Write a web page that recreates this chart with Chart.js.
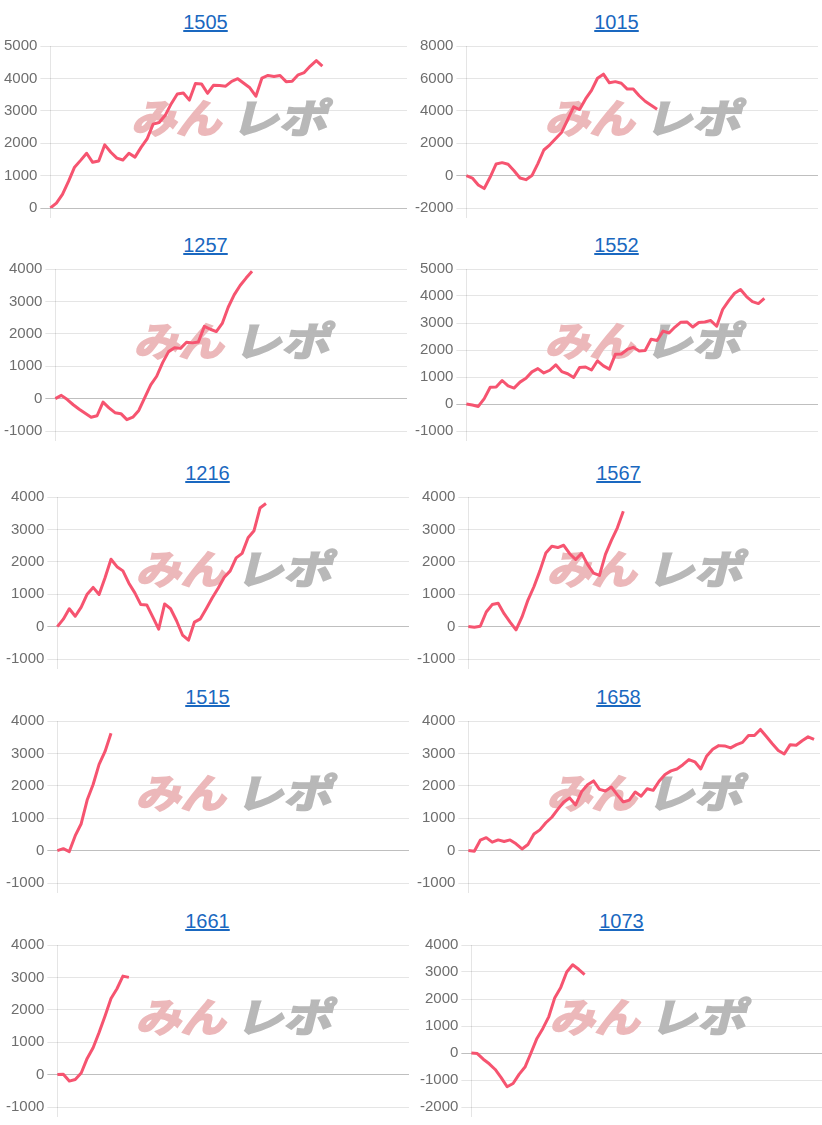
<!DOCTYPE html>
<html>
<head>
<meta charset="utf-8">
<title>みんレポ</title>
<script src="https://cdn.jsdelivr.net/npm/chart.js@4.4.0/dist/chart.umd.min.js"></script>
<style>
    html, body { margin: 0; padding: 0; background: #fff; overflow: hidden; }
    #wrap { position: relative; width: 822px; height: 1125px; }
    .panel { position: absolute; width: 411px; height: 225px; }
    .panel a {
        position: absolute; left: 0; right: 0; top: 10px;
        text-align: center; font: 20px/24px Arial, "Liberation Sans", sans-serif;
        color: #1a68c0; text-decoration: underline;
    }
    .panel canvas { position: absolute; left: 0; top: 34px; }
</style>
</head>
<body>
<div id="wrap"></div>
<script>
// Titles of each small chart
var titles = ['1505', '1015', '1257', '1552', '1216', '1567', '1515', '1658', '1661', '1073'];

// Series values
var s1505 = [0, 150, 420, 820, 1260, 1470, 1690, 1410, 1450, 1950, 1720, 1540, 1480, 1690, 1570, 1870, 2130, 2590, 2640, 2860,
    3220, 3520, 3550, 3330, 3840, 3830, 3540, 3790, 3780, 3760, 3910, 3990, 3850, 3710, 3450, 4010, 4090, 4060, 4090, 3900,
    3910, 4110, 4180, 4380, 4550, 4380];
var s1015 = [0, -150, -580, -800, -90, 720, 800, 700, 300, -150, -250, 0, 740, 1580, 1900, 2290, 2680, 3450, 4240, 4080,
    4730, 5260, 6010, 6260, 5730, 5800, 5700, 5340, 5340, 4930, 4590, 4340, 4100];
var s1257 = [0, 100, -30, -190, -330, -455, -575, -530, -110, -285, -435, -465, -650, -575, -365, 30, 425, 690, 1110, 1450,
    1570, 1550, 1740, 1720, 1750, 2230, 2140, 2070, 2320, 2820, 3200, 3490, 3720, 3930];
var s1552 = [0, -40, -90, 200, 620, 630, 870, 670, 590, 810, 950, 1190, 1310, 1150, 1250, 1450, 1200, 1120, 980, 1350,
    1370, 1260, 1600, 1410, 1290, 1840, 1850, 2020, 2100, 1960, 1980, 2400, 2350, 2700, 2630, 2850, 3030, 3040, 2850, 3020,
    3040, 3090, 2880, 3500, 3820, 4100, 4240, 3980, 3790, 3720, 3910];
var s1216 = [0, 230, 550, 320, 600, 1000, 1210, 990, 1510, 2080, 1850, 1720, 1340, 1040, 680, 670, 300, -80, 700, 550,
    180, -260, -420, 140, 240, 560, 890, 1190, 1520, 1720, 2120, 2260, 2740, 2960, 3660, 3800];
var s1567 = [0, -20, 10, 450, 680, 720, 400, 140, -100, 300, 820, 1230, 1720, 2270, 2480, 2440, 2510, 2250, 2070, 2260,
    1920, 1650, 1580, 2230, 2660, 3050, 3560];
var s1515 = [0, 60, -30, 460, 830, 1560, 2040, 2660, 3060, 3620];
var s1658 = [0, -20, 320, 400, 260, 330, 280, 330, 210, 50, 190, 510, 640, 860, 1030, 1270, 1500, 1620, 1410, 1820,
    2030, 2150, 1890, 1840, 1960, 1720, 1500, 1560, 1810, 1680, 1910, 1860, 2140, 2350, 2460, 2520, 2650, 2810, 2740, 2520,
    2920, 3130, 3240, 3230, 3170, 3270, 3340, 3550, 3550, 3740, 3520, 3300, 3090, 2980, 3270, 3250, 3390, 3510, 3430];
var s1661 = [0, 10, -200, -150, 50, 500, 830, 1300, 1810, 2350, 2650, 3040, 3000];
var s1073 = [0, -20, -230, -400, -610, -910, -1250, -1130, -790, -520, 0, 540, 910, 1350, 2050, 2430, 3000, 3270, 3100, 2900];

var series = [s1505, s1015, s1257, s1552, s1216, s1567, s1515, s1658, s1661, s1073];

// Y axis tick ranges
var yMin = [0, -2000, -1000, -1000, -1000, -1000, -1000, -1000, -1000, -2000];
var yMax = [5000, 8000, 4000, 5000, 4000, 4000, 4000, 4000, 4000, 4000];
var yStep = [1000, 2000, 1000, 1000, 1000, 1000, 1000, 1000, 1000, 1000];

// x axis has no visible labels, just a fixed number of slots
var xLabelCount = 60;
var xLabels = new Array(xLabelCount).fill('');

// panel placement on the page
var panelLeft = [0, 411, 0, 411, 2, 413, 2, 413, 2, 416];
var panelTop = [0, 0, 223, 223, 451, 451, 675, 675, 899, 899];

var lineColor = 'rgb(246, 84, 112)';

Chart.defaults.font.family = 'Arial, "Liberation Sans", sans-serif';
Chart.defaults.font.size = 15;
Chart.defaults.color = '#6e6e6e';

// draw one half of the logo, squeezed to a width and slanted
function drawLogoPart(ctx, text, x, y, w, color) {
    var m = ctx.measureText(text).width;
    ctx.save();
    ctx.translate(x, y);
    ctx.transform(w / m, 0, -0.25, 1, 0, 0);
    ctx.fillStyle = color;
    ctx.strokeStyle = color;
    ctx.lineWidth = 2;
    ctx.fillText(text, 0, 0);
    ctx.strokeText(text, 0, 0);
    ctx.restore();
}

// watermark behind the line
var watermark = {
    id: 'watermark',
    beforeDatasetsDraw: function(chart) {
        var ctx = chart.ctx;
        var area = chart.chartArea;
        var left = (area.left + area.right) / 2 - 98;
        var mid = area.top + 72;
        ctx.save();
        ctx.font = 'bold 40px "Noto Sans CJK JP"';
        ctx.textBaseline = 'middle';
        ctx.textAlign = 'left';
        drawLogoPart(ctx, 'みん', left + 4, mid, 90, 'rgb(236, 184, 186)');
        drawLogoPart(ctx, 'レポ', left + 104, mid, 96, 'rgb(184, 184, 184)');
        ctx.restore();
    }
};

var wrap = document.getElementById('wrap');

titles.forEach(function(title, i) {
    var panel = document.createElement('div');
    panel.className = 'panel';
    panel.style.left = panelLeft[i] + 'px';
    panel.style.top = panelTop[i] + 'px';

    var link = document.createElement('a');
    link.href = '#';
    link.textContent = title;
    panel.appendChild(link);

    var canvas = document.createElement('canvas');
    canvas.width = 411;
    canvas.height = 186;
    panel.appendChild(canvas);
    wrap.appendChild(panel);

    new Chart(canvas.getContext('2d'), {
        type: 'line',
        data: {
            labels: xLabels,
            datasets: [{
                data: series[i],
                borderColor: lineColor,
                borderWidth: 3,
                borderJoinStyle: 'round',
                pointRadius: 0,
                tension: 0,
                fill: false
            }]
        },
        options: {
            responsive: false,
            animation: false,
            devicePixelRatio: 1,
            layout: { padding: { left: 1, right: 4, top: 2, bottom: 2 } },
            plugins: {
                legend: { display: false },
                tooltip: { enabled: false }
            },
            scales: {
                x: {
                    ticks: { display: false, autoSkip: false },
                    grid: {
                        tickLength: 10,
                        color: function(c) { return c.index === 0 ? 'rgba(0,0,0,0.1)' : 'rgba(0,0,0,0)'; }
                    },
                    border: { display: false }
                },
                y: {
                    min: yMin[i],
                    max: yMax[i],
                    ticks: {
                        stepSize: yStep[i],
                        padding: 3,
                        callback: function(v) { return String(v); }
                    },
                    grid: {
                        tickLength: 10,
                        color: function(c) { return c.tick && c.tick.value === 0 ? 'rgba(0,0,0,0.25)' : 'rgba(0,0,0,0.1)'; }
                    },
                    border: { display: false }
                }
            }
        },
        plugins: [watermark]
    });
});
</script>
</body>
</html>
